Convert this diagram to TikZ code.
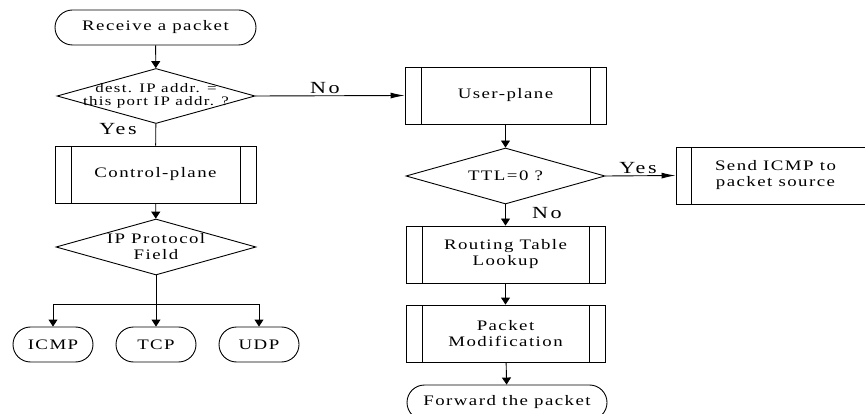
\documentclass[tikz,border=0pt]{standalone}
\usepackage{fontspec}
\usepackage{tikz}
\usetikzlibrary{shapes.geometric,arrows.meta}
\newfontfamily\flowfont{Liberation Serif}[FakeStretch=1.3,LetterSpace=10]
\newfontfamily\lblfont{Liberation Serif}[FakeStretch=1.3,LetterSpace=15]
\tikzset{
  every path/.style={line width=0.9pt},
  txt/.style={font=\flowfont\fontsize{14.5}{16}\selectfont,align=center},
  dtxt/.style={font=\flowfont\fontsize{13}{13}\selectfont,align=center},
  lbl/.style={font=\lblfont\fontsize{17}{19}\selectfont},
  term/.style={txt,draw,rounded corners=17.5pt,minimum width=#1,minimum height=35pt,inner sep=0pt},
  term/.default=200pt,
  dec/.style={draw,diamond,minimum width=199pt,minimum height=56pt,inner sep=0pt,aspect=3.6},
  proc/.style={txt,draw,minimum width=200pt,minimum height=57pt,inner sep=0pt,
    path picture={
      \draw ([xshift=16pt]path picture bounding box.north west)--([xshift=16pt]path picture bounding box.south west);
      \draw ([xshift=-16pt]path picture bounding box.north east)--([xshift=-16pt]path picture bounding box.south east);
    }},
  arr/.style={-{Triangle[length=7pt,width=9pt]}},
  harr/.style={-{Latex[length=14pt,width=6pt]}}
}
\begin{document}
\begin{tikzpicture}[x=1pt,y=-1pt]
\useasboundingbox (0,0) rectangle (865,414);
%left column
\node[term=201pt] (recv) at (155.5,27.5) {Receive a packet};
\node[dec,minimum width=198pt,minimum height=55pt] (isme) at (156,96) {};
\node[dtxt] at (isme) {dest. IP addr. =\\this port IP addr. ?};
\node[proc,minimum width=201pt] (ctrl) at (155.5,174.5) {Control-plane};
\node[dec,minimum width=200pt] (proto) at (156,247) {};
\node[txt] at (proto) {IP Protocol\\Field};
\node[term=80pt] (icmp) at (53,344.5) {ICMP};
\node[term=80pt] (tcp) at (156,344.5) {TCP};
\node[term=80pt] (udp) at (259,344.5) {UDP};
\coordinate (fork) at (156,304);
%right column
\node[proc,minimum width=201pt] (user) at (505.5,95.5) {User-plane};
\node[dec] (ttl) at (505.5,176) {};
\node[txt] at (ttl) {TTL=0 ?};
\node[proc,minimum width=199pt,
  path picture={\draw ([xshift=15pt]path picture bounding box.north west)--([xshift=15pt]path picture bounding box.south west);}]
  (icmpsrc) at (775.5,175.5) {Send ICMP to\\packet source};
\node[proc,minimum width=199pt] (route) at (505.5,254.5) {Routing Table\\Lookup};
\node[proc,minimum width=199pt] (modify) at (505.5,333.5) {Packet\\Modification};
\node[term=200pt] (fwd) at (507,402.5) {Forward the packet};
%connectors
\draw[arr] (recv) -- (isme);
\draw (isme) -- (ctrl);
\draw[arr] (ctrl) -- (proto);
\draw (proto) -- (fork);
\draw[arr] (fork) -| (icmp);
\draw[arr] (fork) -- (tcp);
\draw[arr] (fork) -| (udp);
\draw[harr] (isme.east) -- (user.west);
\draw[arr] (user) -- (ttl);
\draw[harr] (ttl.east) -- (icmpsrc.west);
\draw[arr] (ttl) -- (route);
\draw[arr] (route) -- (modify);
\draw[arr] (modify) -- (fwd);
%labels
\node[lbl] (yes1) at (118,129) {Yes};
\node[lbl] (no1) at (325,88) {No};
\node[lbl] (yes2) at (638,168) {Yes};
\node[lbl] (no2) at (547,213) {No};
\end{tikzpicture}
\end{document}
